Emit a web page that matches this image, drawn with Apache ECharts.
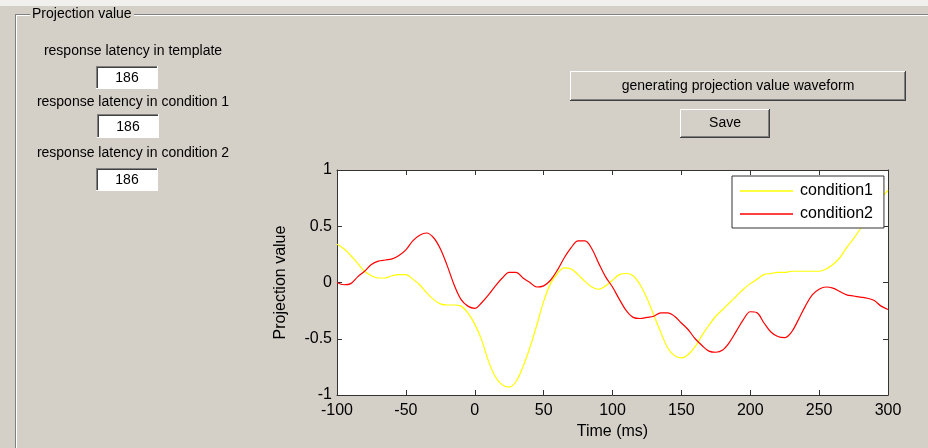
<!DOCTYPE html>
<html>
<head>
<meta charset="utf-8">
<script src="https://cdn.jsdelivr.net/npm/echarts@6/dist/echarts.min.js"></script>
<style>
html,body{margin:0;padding:0;background:#d4d0c8;}
#main{width:928px;height:448px;}
</style>
</head>
<body>
<div id="main"></div>
<script>
// time axis in ms, 5 ms steps
const timeMs = [];
for (let t = -100; t <= 300; t += 5) timeMs.push(t);

const xTicks = [-100, -50, 0, 50, 100, 150, 200, 250, 300];
const yTicks = [-1, -0.5, 0, 0.5, 1];

const condition1 = [
	0.34, 0.30, 0.24, 0.17, 0.10, 0.06, 0.04, 0.04, 0.06, 0.07,
	0.07, 0.03, -0.02, -0.09, -0.15, -0.19, -0.20, -0.20, -0.21, -0.27,
	-0.37, -0.51, -0.70, -0.84, -0.91, -0.93, -0.88, -0.75, -0.58, -0.38,
	-0.17, -0.01, 0.08, 0.13, 0.12, 0.07, 0.01, -0.04, -0.06, -0.03,
	0.02, 0.07, 0.08, 0.06, -0.02, -0.14, -0.29, -0.44, -0.58, -0.65,
	-0.67, -0.64, -0.57, -0.47, -0.38, -0.30, -0.24, -0.18, -0.12, -0.06,
	-0.01, 0.03, 0.07, 0.08, 0.09, 0.09, 0.10, 0.10, 0.10, 0.10,
	0.10, 0.12, 0.16, 0.22, 0.31, 0.39, 0.48, 0.58, 0.67, 0.75,
	0.82
];
const condition2 = [
	0.00, -0.02, -0.01, 0.05, 0.10, 0.16, 0.19, 0.20, 0.21, 0.24,
	0.29, 0.37, 0.42, 0.44, 0.40, 0.30, 0.15, -0.02, -0.15, -0.21,
	-0.23, -0.18, -0.11, -0.03, 0.04, 0.09, 0.09, 0.04, 0.00, -0.04,
	-0.03, 0.02, 0.11, 0.22, 0.31, 0.37, 0.37, 0.30, 0.17, 0.05,
	-0.04, -0.15, -0.25, -0.31, -0.32, -0.31, -0.30, -0.27, -0.27, -0.30,
	-0.36, -0.42, -0.50, -0.56, -0.61, -0.62, -0.60, -0.53, -0.43, -0.33,
	-0.26, -0.27, -0.36, -0.44, -0.48, -0.49, -0.44, -0.33, -0.21, -0.11,
	-0.06, -0.04, -0.05, -0.08, -0.11, -0.12, -0.13, -0.14, -0.16, -0.21,
	-0.24
];
const latencies = ['186', '186', '186'];

const FONT = 'Arial, "Liberation Sans", sans-serif';

function hline(x1, x2, y, c) {
	return {type: 'line', shape: {x1: x1, y1: y + 0.5, x2: x2, y2: y + 0.5}, style: {stroke: c, lineWidth: 1}, silent: true};
}
function vline(x, y1, y2, c) {
	return {type: 'line', shape: {x1: x + 0.5, y1: y1, x2: x + 0.5, y2: y2}, style: {stroke: c, lineWidth: 1}, silent: true};
}
function label(txt, x, y, align) {
	return {type: 'text', silent: true, style: {text: txt, x: x, y: y, fill: '#000', font: '14px ' + FONT,
		align: align || 'center', verticalAlign: 'middle', textAlign: align || 'center', textVerticalAlign: 'middle'}};
}
// white edit box, sunken edges
function editBox(x, y, w, h, txt) {
	return [
		{type: 'rect', shape: {x: x, y: y, width: w, height: h}, style: {fill: '#fff'}, silent: true},
		hline(x, x + w, y, '#808080'), vline(x, y, y + h, '#808080'),
		hline(x + 1, x + w - 1, y + 1, '#404040'), vline(x + 1, y + 1, y + h - 1, '#404040'),
		hline(x, x + w, y + h - 1, '#fff'), vline(x + w - 1, y, y + h, '#fff'),
		label(txt, x + w / 2, y + h / 2 + 1)
	];
}
// push button, raised edges
function button(x, y, w, h, txt) {
	return [
		{type: 'rect', shape: {x: x, y: y, width: w, height: h}, style: {fill: '#d4d0c8'}, silent: true},
		hline(x, x + w, y, '#fff'), vline(x, y, y + h, '#fff'),
		hline(x, x + w, y + h - 1, '#404040'), vline(x + w - 1, y, y + h, '#404040'),
		hline(x + 1, x + w - 1, y + h - 2, '#808080'), vline(x + w - 2, y + 1, y + h - 1, '#808080'),
		label(txt, x + w / 2, y + h / 2)
	];
}

let gui = [
	{type: 'rect', shape: {x: 0, y: 0, width: 928, height: 6}, style: {fill: '#f1f0ec'}, silent: true},
	hline(15, 30, 14, '#808080'), hline(16, 30, 15, '#fff'),
	hline(134, 928, 14, '#808080'), hline(134, 928, 15, '#fff'),
	vline(15, 14, 448, '#808080'), vline(16, 15, 448, '#fff'),
	label('Projection value', 32, 14, 'left'),
	label('response latency in template', 133, 51),
	label('response latency in condition 1', 133, 102),
	label('response latency in condition 2', 133, 153)
];
gui = gui.concat(editBox(96, 66, 62, 23, latencies[0]));
gui = gui.concat(editBox(97, 114, 62, 24, latencies[1]));
gui = gui.concat(editBox(96, 168, 62, 23, latencies[2]));
gui = gui.concat(button(570, 71, 336, 30, 'generating projection value waveform'));
gui = gui.concat(button(680, 109, 90, 29, 'Save'));

const axisCol = '#333';
const tickCfg = {show: true, inside: true, length: 5, lineStyle: {color: axisCol}};
const labelCfg = {color: '#000', fontSize: 16, fontFamily: FONT};

const myChart = echarts.init(document.getElementById('main'));
const option = {
	backgroundColor: '#d4d0c8',
	animation: false,
	textStyle: {fontFamily: FONT},
	grid: {left: 337, top: 170, width: 551, height: 225, show: true, backgroundColor: '#fff', borderWidth: 0},
	xAxis: [{
		type: 'value', min: xTicks[0], max: xTicks[xTicks.length - 1], interval: 50,
		position: 'bottom',
		axisLine: {show: true, onZero: false, lineStyle: {color: axisCol}},
		axisTick: tickCfg, splitLine: {show: false},
		axisLabel: Object.assign({margin: 8}, labelCfg),
		name: 'Time (ms)', nameLocation: 'middle', nameGap: 27,
		nameTextStyle: {color: '#000', fontSize: 16, fontFamily: FONT}
	}, {
		type: 'value', min: xTicks[0], max: xTicks[xTicks.length - 1], interval: 50,
		position: 'top',
		axisLine: {show: true, onZero: false, lineStyle: {color: axisCol}},
		axisTick: tickCfg, splitLine: {show: false}, axisLabel: {show: false}
	}],
	yAxis: [{
		type: 'value', min: yTicks[0], max: yTicks[yTicks.length - 1], interval: 0.5,
		position: 'left',
		axisLine: {show: true, onZero: false, lineStyle: {color: axisCol}},
		axisTick: tickCfg, splitLine: {show: false},
		axisLabel: Object.assign({margin: 5}, labelCfg),
		name: 'Projection value', nameLocation: 'middle', nameGap: 48,
		nameTextStyle: {color: '#000', fontSize: 16, fontFamily: FONT}
	}, {
		type: 'value', min: yTicks[0], max: yTicks[yTicks.length - 1], interval: 0.5,
		position: 'right',
		axisLine: {show: true, onZero: false, lineStyle: {color: axisCol}},
		axisTick: tickCfg, splitLine: {show: false}, axisLabel: {show: false}
	}],
	legend: {
		left: 732, top: 176, orient: 'vertical',
		icon: 'rect', itemWidth: 53, itemHeight: 1.5, itemGap: 7,
		padding: [7, 11, 6, 8],
		backgroundColor: '#fff', borderColor: axisCol, borderWidth: 1,
		textStyle: {color: '#000', fontSize: 16, fontFamily: FONT, lineHeight: 16, padding: [0, 0, 0, 2]},
		data: ['condition1', 'condition2']
	},
	series: [{
		name: 'condition1', type: 'line', xAxisIndex: 0, yAxisIndex: 0,
		data: timeMs.map((t, i) => [t, condition1[i]]),
		showSymbol: false, smooth: 0.35, color: '#ffff00',
		lineStyle: {width: 1.2, color: '#ffff00'}
	}, {
		name: 'condition2', type: 'line', xAxisIndex: 0, yAxisIndex: 0,
		data: timeMs.map((t, i) => [t, condition2[i]]),
		showSymbol: false, smooth: 0.35, color: '#ff0000',
		lineStyle: {width: 1.2, color: '#ff0000'}
	}],
	graphic: {elements: gui}
};
myChart.setOption(option, true);
</script>
</body>
</html>
